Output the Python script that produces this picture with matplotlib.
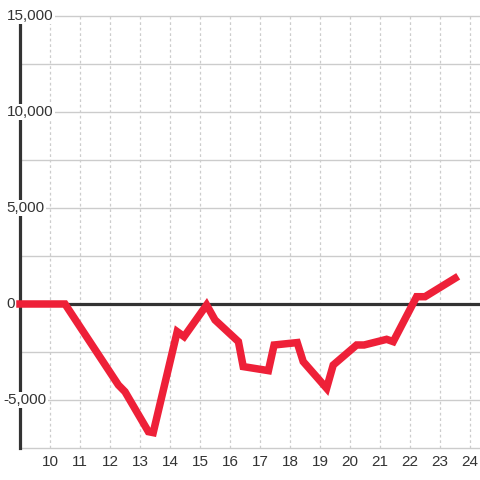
import matplotlib
matplotlib.use("Agg")
import matplotlib.pyplot as plt

x_vals = [9.0, 10.5, 12.28, 12.5, 13.28, 13.44, 14.24, 14.47, 15.22, 15.5,
          16.28, 16.44, 17.28, 17.47, 18.24, 18.44, 19.22, 19.44, 20.22, 20.47,
          21.22, 21.44, 22.22, 22.5, 23.5]
y_vals = [0, 0, -4220, -4570, -6650, -6700, -1440, -1700, -50, -830,
          -1960, -3260, -3470, -2135, -2010, -3000, -4390, -3180, -2135, -2135,
          -1840, -1960, 380, 380, 1340]
x_ticks = list(range(10, 25))
y_label_vals = [15000, 10000, 5000, 0, -5000]
y_label_text = ["15,000", "10,000", "5,000", "0", "-5,000"]
y_grid_vals = [-7500, -5000, -2500, 2500, 5000, 7500, 10000, 12500, 15000]

plt.rcParams['font.family'] = ['Liberation Sans', 'DejaVu Sans']

fig = plt.figure(figsize=(4.8, 4.8), dpi=100)
fig.patch.set_facecolor('white')
ax = fig.add_axes([20/480, 32/480, 460/480, 432/480])
ax.set_facecolor('white')
ax.set_xlim(9.0, 24.333)
ax.set_ylim(-7500, 15000)

for s in ['top', 'right', 'bottom']:
    ax.spines[s].set_visible(False)
ax.spines['left'].set_color('#333333')
ax.spines['left'].set_linewidth(2.3)
ax.spines['left'].set_zorder(4)

for g in y_grid_vals:
    ax.axhline(g, color='#cccccc', lw=1.0, zorder=1, clip_on=False)
for t in x_ticks:
    ax.axvline(t, color='#cccccc', lw=0.9, ls=(0, (2.2, 2.2)), zorder=1)

ax.axhline(0, color='#333333', lw=2.3, zorder=2)

ax.plot(x_vals, y_vals, color='#ee2038', lw=5.4, solid_joinstyle='miter',
        solid_capstyle='projecting', zorder=6, clip_on=False)

ax.set_xticks(x_ticks)
ax.set_xticklabels([str(t) for t in x_ticks])
ax.tick_params(axis='x', length=0, pad=5, labelsize=11, labelcolor='#333333')
ax.set_yticks([])

for v, lab in zip(y_label_vals, y_label_text):
    yfig = (32 + (v + 7500) / 22500 * 432) / 480
    xpx = 3.0 if lab.startswith('-') else 6.5
    ax.text(xpx/480, yfig, lab, ha='left', va='center', fontsize=11,
            color='#333333', zorder=5, transform=fig.transFigure, clip_on=False,
            bbox=dict(facecolor='white', edgecolor='none', pad=1.0))

fig.savefig('out.png', dpi=100, facecolor=fig.get_facecolor())
